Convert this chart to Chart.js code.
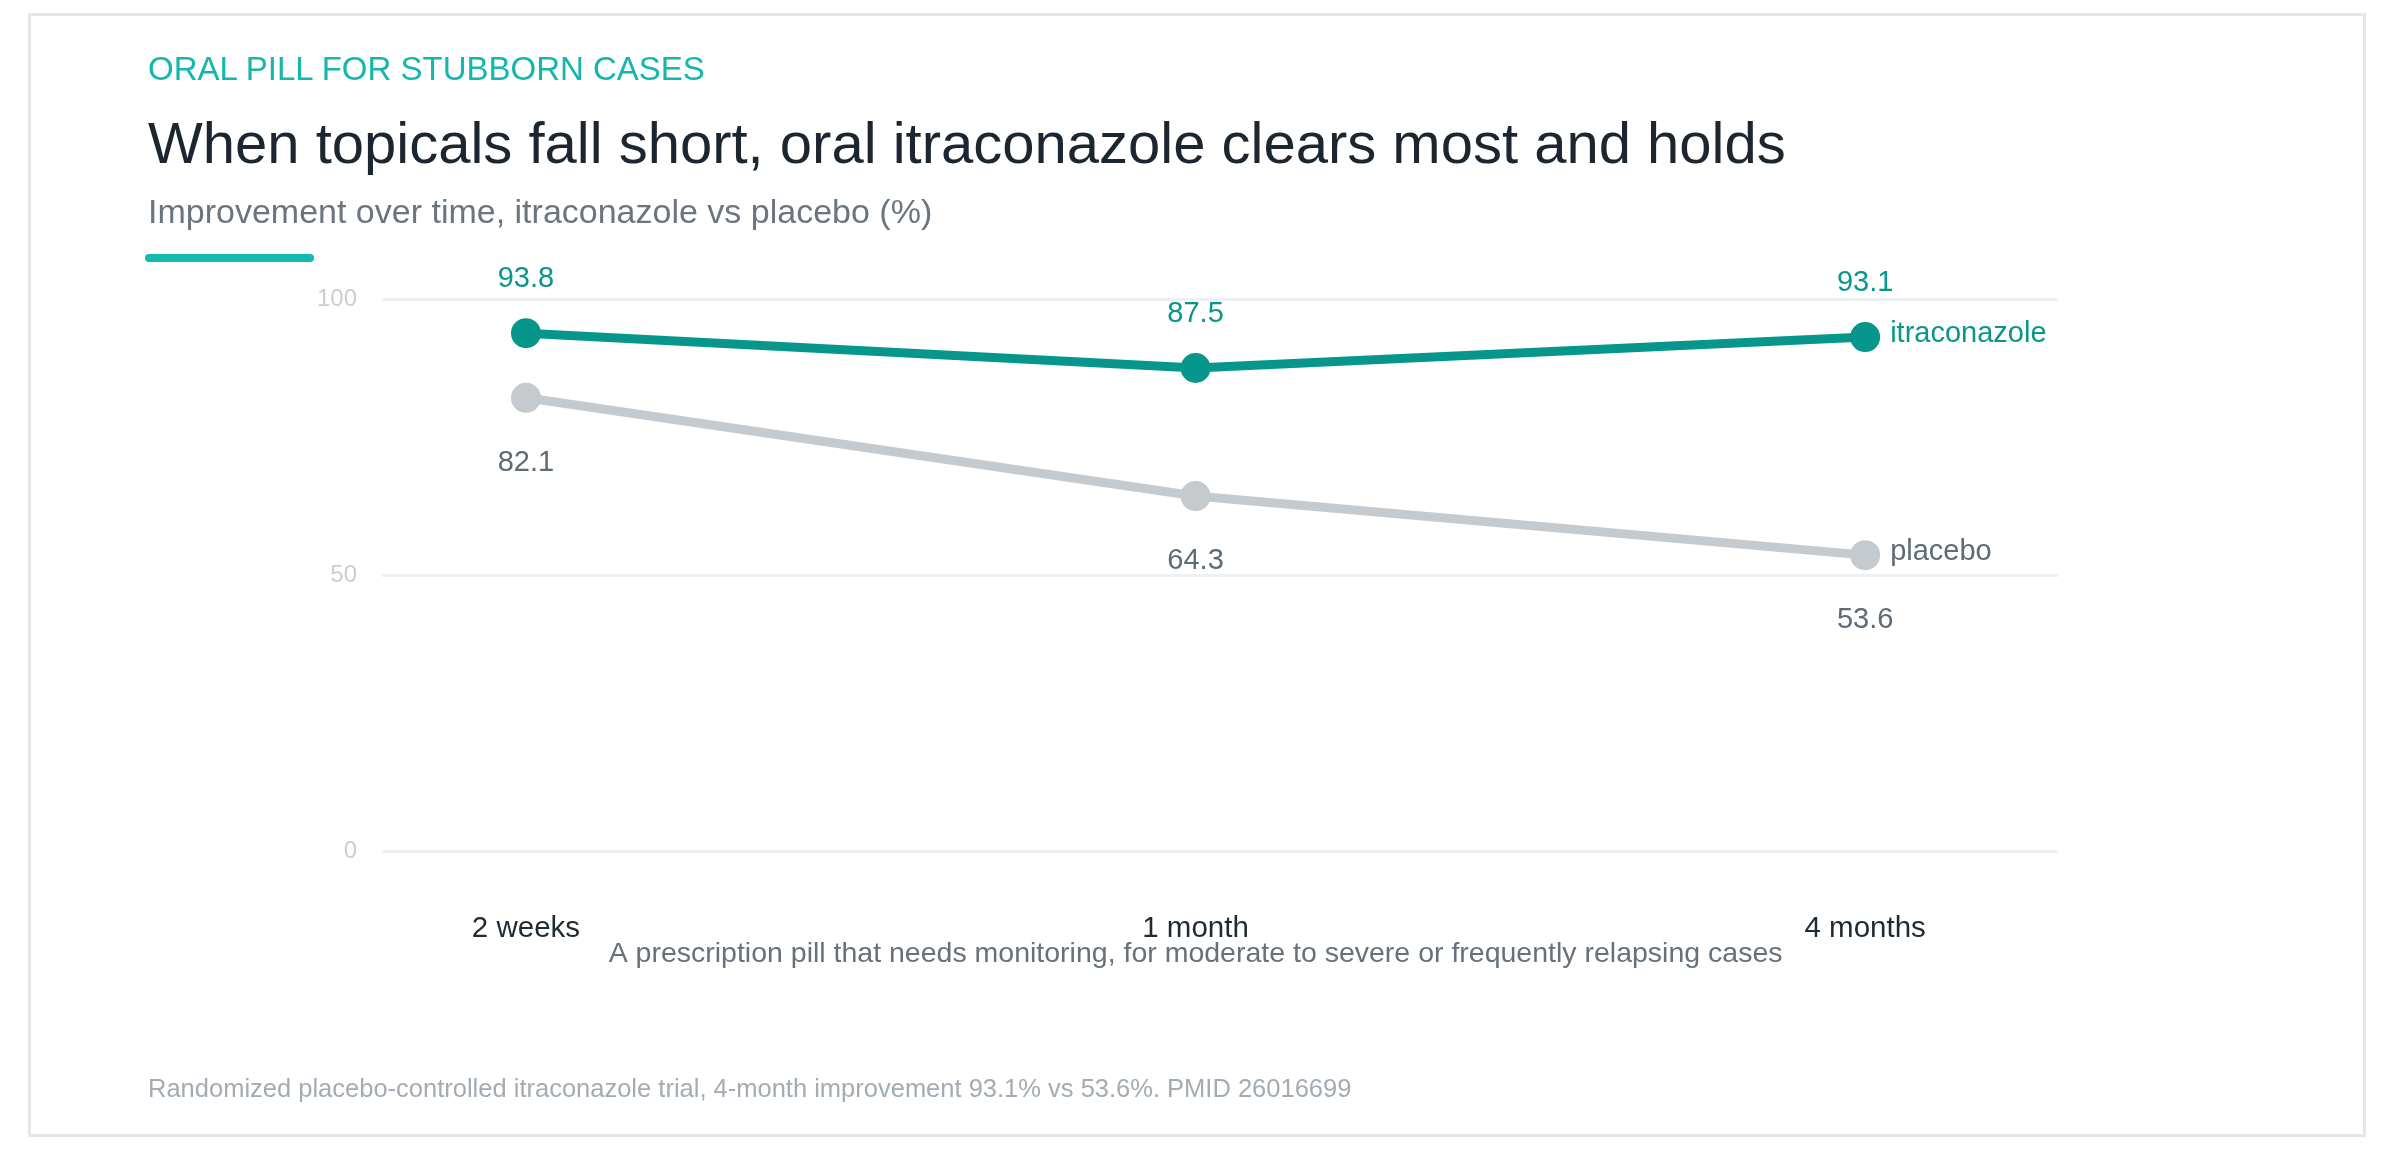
<!DOCTYPE html>
<html lang="en">
  <head>
    <meta charset="UTF-8" />
    <title>Oral itraconazole vs placebo</title>
    <style>
      body {
        margin: 0;
        width: 2392px;
        height: 1150px;
        background: #fff;
        font-family: "Liberation Sans", Arial, Helvetica, sans-serif;
        position: relative;
        overflow: hidden;
      }
      .card {
        position: absolute;
        left: 28px;
        top: 13px;
        width: 2332px;
        height: 1118px;
        border: 3px solid #e4e7ea;
      }
      #chart {
        position: absolute;
        left: 0;
        top: 0;
      }
      .txt {
        position: absolute;
        left: 148px;
        line-height: 1;
        white-space: nowrap;
      }
      .eyebrow { top: 52px; font-size: 33px; color: #15b6ab; }
      .title { top: 114px; font-size: 58px; color: #1c2630; }
      .subtitle { top: 194px; font-size: 34px; color: #6b7580; }
      .footer { top: 1076px; font-size: 25.5px; color: #a3abb3; }
      .accent {
        position: absolute;
        left: 145px;
        top: 254px;
        width: 169px;
        height: 8px;
        border-radius: 4px;
        background: #12b9af;
      }
    </style>
  </head>
  <body>
    <div class="card"></div>
    <canvas id="chart" width="2392" height="1150"></canvas>
    <div class="txt eyebrow">ORAL PILL FOR STUBBORN CASES</div>
    <div class="txt title">When topicals fall short, oral itraconazole clears most and holds</div>
    <div class="txt subtitle">Improvement over time, itraconazole vs placebo (%)</div>
    <div class="accent"></div>
    <div class="txt footer">Randomized placebo-controlled itraconazole trial, 4-month improvement 93.1% vs 53.6%. PMID 26016699</div>

    <script src="https://cdn.jsdelivr.net/npm/chart.js"></script>
    <script>
      const categories = ['2 weeks', '1 month', '4 months'];
      const itraconazole = [93.8, 87.5, 93.1];
      const placebo = [82.1, 64.3, 53.6];
      const yTicks = [0, 50, 100];
      const caption = 'A prescription pill that needs monitoring, for moderate to severe or frequently relapsing cases';

      const family = '"Liberation Sans", Arial, Helvetica, sans-serif';
      Chart.defaults.font.family = family;

      const teal = '#07968b';
      const grey = '#c4cacd';

      // value labels above / below each point, plus the series name at the end
      const pointLabels = {
        id: 'pointLabels',
        afterDatasetsDraw(chart) {
          const ctx = chart.ctx;
          chart.data.datasets.forEach((ds, di) => {
            const meta = chart.getDatasetMeta(di);
            ctx.save();
            ctx.font = '29px ' + family;
            ctx.textBaseline = 'alphabetic';
            ctx.textAlign = 'center';
            ctx.fillStyle = ds.textColor;
            meta.data.forEach((pt, i) => {
              const dy = ds.labelAbove ? -46 : 73;
              ctx.fillText(ds.data[i].y.toFixed(1), pt.x, pt.y + dy);
            });
            const last = meta.data[meta.data.length - 1];
            ctx.textAlign = 'left';
            ctx.fillText(ds.label, last.x + 25, last.y + 5);
            ctx.restore();
          });
        },
        afterDraw(chart) {
          const ctx = chart.ctx;
          const x = chart.scales.x;
          ctx.save();
          ctx.font = '28.5px ' + family;
          ctx.fillStyle = '#66717b';
          ctx.textAlign = 'center';
          ctx.fillText(caption, x.getPixelForValue(1), x.top + 111);
          ctx.restore();
        }
      };

      new Chart(document.getElementById('chart'), {
        type: 'line',
        data: {
          datasets: [
            {
              label: 'itraconazole',
              data: categories.map((c, i) => ({ x: i, y: itraconazole[i] })),
              borderColor: teal,
              backgroundColor: teal,
              pointBackgroundColor: teal,
              pointBorderColor: teal,
              textColor: '#0b968b',
              labelAbove: true,
              borderWidth: 9,
              pointRadius: 14,
              pointBorderWidth: 2,
              tension: 0
            },
            {
              label: 'placebo',
              data: categories.map((c, i) => ({ x: i, y: placebo[i] })),
              borderColor: grey,
              backgroundColor: grey,
              pointBackgroundColor: grey,
              pointBorderColor: grey,
              textColor: '#5f6b75',
              labelAbove: false,
              borderWidth: 9,
              pointRadius: 14,
              pointBorderWidth: 2,
              tension: 0
            }
          ]
        },
        options: {
          responsive: false,
          animation: false,
          devicePixelRatio: 1,
          layout: { padding: { left: 282, right: 334, top: 299, bottom: 149 } },
          plugins: {
            legend: { display: false },
            tooltip: { enabled: false }
          },
          scales: {
            x: {
              type: 'linear',
              min: -0.215,
              max: 2.288,
              afterBuildTicks: s => { s.ticks = categories.map((c, i) => ({ value: i })); },
              afterFit: s => { s.height = 150; },
              grid: { display: false },
              border: { display: false },
              ticks: {
                padding: 52,
                color: '#1f2a33',
                font: { size: 29.5 },
                maxRotation: 0,
                autoSkip: false,
                callback: v => categories[v]
              }
            },
            y: {
              min: 0,
              max: 100,
              afterBuildTicks: s => { s.ticks = yTicks.map(v => ({ value: v })); },
              afterFit: s => { s.width = 100; },
              grid: { color: '#eef1f4', lineWidth: 3, drawTicks: false },
              border: { display: false },
              ticks: { padding: 25, color: '#c9ced3', font: { size: 24 } }
            }
          }
        },
        plugins: [pointLabels]
      });
    </script>
  </body>
</html>
